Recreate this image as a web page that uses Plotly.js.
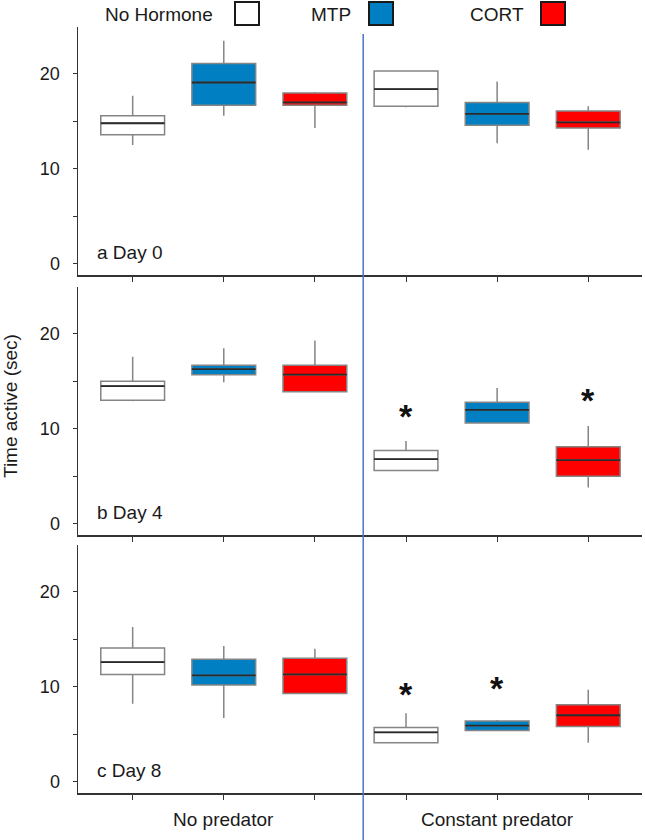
<!DOCTYPE html>
<html>
<head>
<meta charset="utf-8">
<script src="https://cdn.plot.ly/plotly-3.0.1.min.js"></script>
<style>html,body{margin:0;padding:0;background:#fff;}#chart{width:645px;height:840px;}</style>
</head>
<body>
<div id="chart"></div>
<script>
// ---- data ----
const groupLabels = ['No predator', 'Constant predator'];
const hormoneNames = ['No Hormone', 'MTP', 'CORT'];
const panelLabels = ['a Day 0', 'b Day 4', 'c Day 8'];
// order of 6 boxes: NoPred-NoHormone, NoPred-MTP, NoPred-CORT, ConstPred-NoHormone, ConstPred-MTP, ConstPred-CORT
const day0Upper  = [17.7, 23.5, 18.1, 20.3, 19.2, 16.6];
const day0Q3     = [15.6, 21.1, 18.0, 20.3, 17.0, 16.1];
const day0Median = [14.8, 19.1, 17.0, 18.4, 15.8, 14.9];
const day0Q1     = [13.6, 16.7, 16.7, 16.6, 14.6, 14.3];
const day0Lower  = [12.5, 15.6, 14.3, 16.5, 12.7, 12.0];

const day4Upper  = [17.6, 18.5, 19.3, 8.7, 14.3, 10.3];
const day4Q3     = [15.0, 16.7, 16.7, 7.7, 12.8, 8.1];
const day4Median = [14.5, 16.3, 15.7, 6.8, 12.0, 6.7];
const day4Q1     = [13.0, 15.7, 13.9, 5.6, 10.6, 5.0];
const day4Lower  = [12.9, 14.9, 13.9, 5.6, 10.6, 3.8];

const day8Upper  = [16.3, 14.3, 14.0, 7.2, 6.5, 9.7];
const day8Q3     = [14.1, 12.9, 13.0, 5.7, 6.4, 8.1];
const day8Median = [12.6, 11.2, 11.3, 5.2, 5.9, 7.0];
const day8Q1     = [11.3, 10.2, 9.3, 4.1, 5.4, 5.8];
const day8Lower  = [8.2, 6.7, 9.3, 4.1, 5.4, 4.1];

// significance asterisks (y where drawn)
const day0Star = [null, null, null, null, null, null];
const day4Star = [null, null, null, 11.7, null, 13.4];
const day8Star = [null, null, null, 9.6, 10.2, null];

// ---- styles ----
const fills = ['#ffffff', '#0080c3', '#ff0000'];
const FONT = 'Liberation Sans, Arial, sans-serif';
const TXT = '#1a1a1a';

const panels = [
  {upper: day0Upper, q3: day0Q3, med: day0Median, q1: day0Q1, lower: day0Lower, star: day0Star},
  {upper: day4Upper, q3: day4Q3, med: day4Median, q1: day4Q1, lower: day4Lower, star: day4Star},
  {upper: day8Upper, q3: day8Q3, med: day8Median, q1: day8Q1, lower: day8Lower, star: day8Star}
];

// pixel helpers for layout (plot area: x 78..642, y 27..793)
const L = 78, R = 642, T = 27, B = 793;
const px = v => (v - L) / (R - L);
const py = v => (B - v) / (B - T);

const layout = {
  width: 645, height: 840,
  margin: {l: L, r: 645 - R, t: T, b: 840 - B},
  paper_bgcolor: '#fff', plot_bgcolor: '#fff',
  font: {family: FONT, color: TXT, size: 18},
  boxmode: 'overlay',
  showlegend: false,
  shapes: [], annotations: []
};

const traces = [];
panels.forEach((p, pi) => {
  const xa = pi === 0 ? 'x' : 'x' + (pi + 1);
  const ya = pi === 0 ? 'y' : 'y' + (pi + 1);
  hormoneNames.forEach((h, hi) => {
    const idx = [hi, hi + 3];
    traces.push({
      type: 'box', name: h, xaxis: xa, yaxis: ya, showlegend: false,
      x: idx,
      q1: idx.map(i => p.q1[i]), median: idx.map(i => p.med[i]), q3: idx.map(i => p.q3[i]),
      lowerfence: idx.map(i => p.lower[i]), upperfence: idx.map(i => p.upper[i]),
      width: 0.7, whiskerwidth: 0,
      fillcolor: fills[hi], line: {color: '#858585', width: 1.5},
      hoverinfo: 'skip'
    });
    // median overlay in dark colour
    traces.push({
      type: 'box', name: h + ' median', xaxis: xa, yaxis: ya, showlegend: false,
      x: idx,
      q1: idx.map(i => p.med[i]), median: idx.map(i => p.med[i]), q3: idx.map(i => p.med[i]),
      lowerfence: idx.map(i => p.med[i]), upperfence: idx.map(i => p.med[i]),
      width: 0.7, whiskerwidth: 0,
      fillcolor: 'rgba(0,0,0,0)', line: {color: '#2a2a2a', width: 1.8},
      hoverinfo: 'skip'
    });
  });
  p.star.forEach((v, i) => {
    if (v !== null) {
      layout.annotations.push({
        xref: xa, yref: ya, x: i, y: v, xanchor: 'center', yanchor: 'middle',
        yshift: -3, text: '<b>*</b>', showarrow: false,
        font: {family: FONT, size: 34, color: '#111'}
      });
    }
  });
});

const domains = [[py(275), py(27)], [py(535), py(287)], [py(793), py(545)]];

domains.forEach((d, i) => {
  const s = i === 0 ? '' : String(i + 1);
  layout['xaxis' + s] = {
    domain: [0, 1], anchor: 'y' + s, range: [-0.6, 5.59],
    tickvals: [0, 1, 2, 3, 4, 5], showticklabels: false,
    ticks: 'outside', ticklen: 5, tickwidth: 1, tickcolor: '#333',
    showline: true, linecolor: '#333', linewidth: 1.5,
    showgrid: false, zeroline: false, fixedrange: true
  };
  layout['yaxis' + s] = {
    domain: d, anchor: 'x' + s, range: [-1.2, 24.95],
    tickvals: [0, 5, 10, 15, 20], ticktext: ['0', '', '10', '', '20'],
    ticks: 'outside', ticklen: 4, tickwidth: 1, tickcolor: '#333',
    ticklabelstandoff: 9,
    tickfont: {family: FONT, size: 18, color: TXT},
    showline: true, linecolor: '#333', linewidth: 1.5,
    showgrid: false, zeroline: false, fixedrange: true
  };
  layout.annotations.push({
    xref: 'x' + s + ' domain', yref: 'y' + s + ' domain',
    x: 0.03, y: 0.09, xanchor: 'left', yanchor: 'middle',
    text: panelLabels[i], showarrow: false,
    font: {family: FONT, size: 19, color: TXT}
  });
});

// vertical separator line
layout.shapes.push({
  type: 'line', xref: 'x', yref: 'paper', x0: 2.53, x1: 2.53,
  y0: py(840), y1: py(34), line: {color: '#4a74c6', width: 1.5}
});

// group labels
groupLabels.forEach((g, i) => {
  layout.annotations.push({
    xref: 'x3', yref: 'paper', x: i * 3 + 1, y: py(820),
    xanchor: 'center', yanchor: 'middle', text: g, showarrow: false,
    font: {family: FONT, size: 19, color: TXT}
  });
});

// y title
layout.annotations.push({
  xref: 'paper', yref: 'paper', x: px(10), y: py(406),
  xanchor: 'center', yanchor: 'middle', textangle: -90,
  text: 'Time active (sec)', showarrow: false,
  font: {family: FONT, size: 19, color: TXT}
});

// custom legend
const legTextRight = [215, 353, 526];
const legBox = [[235, 259], [369, 393], [541, 565]];
hormoneNames.forEach((h, i) => {
  layout.annotations.push({
    xref: 'paper', yref: 'paper', x: px(legTextRight[i]), y: py(14),
    xanchor: 'right', yanchor: 'middle', text: h, showarrow: false,
    font: {family: FONT, size: 19, color: TXT}
  });
  layout.shapes.push({
    type: 'rect', xref: 'paper', yref: 'paper',
    x0: px(legBox[i][0]), x1: px(legBox[i][1]), y0: py(25), y1: py(2),
    fillcolor: fills[i], line: {color: '#1a1a1a', width: 2}
  });
});

Plotly.newPlot('chart', traces, layout, {displayModeBar: false, staticPlot: true});
</script>
</body>
</html>
